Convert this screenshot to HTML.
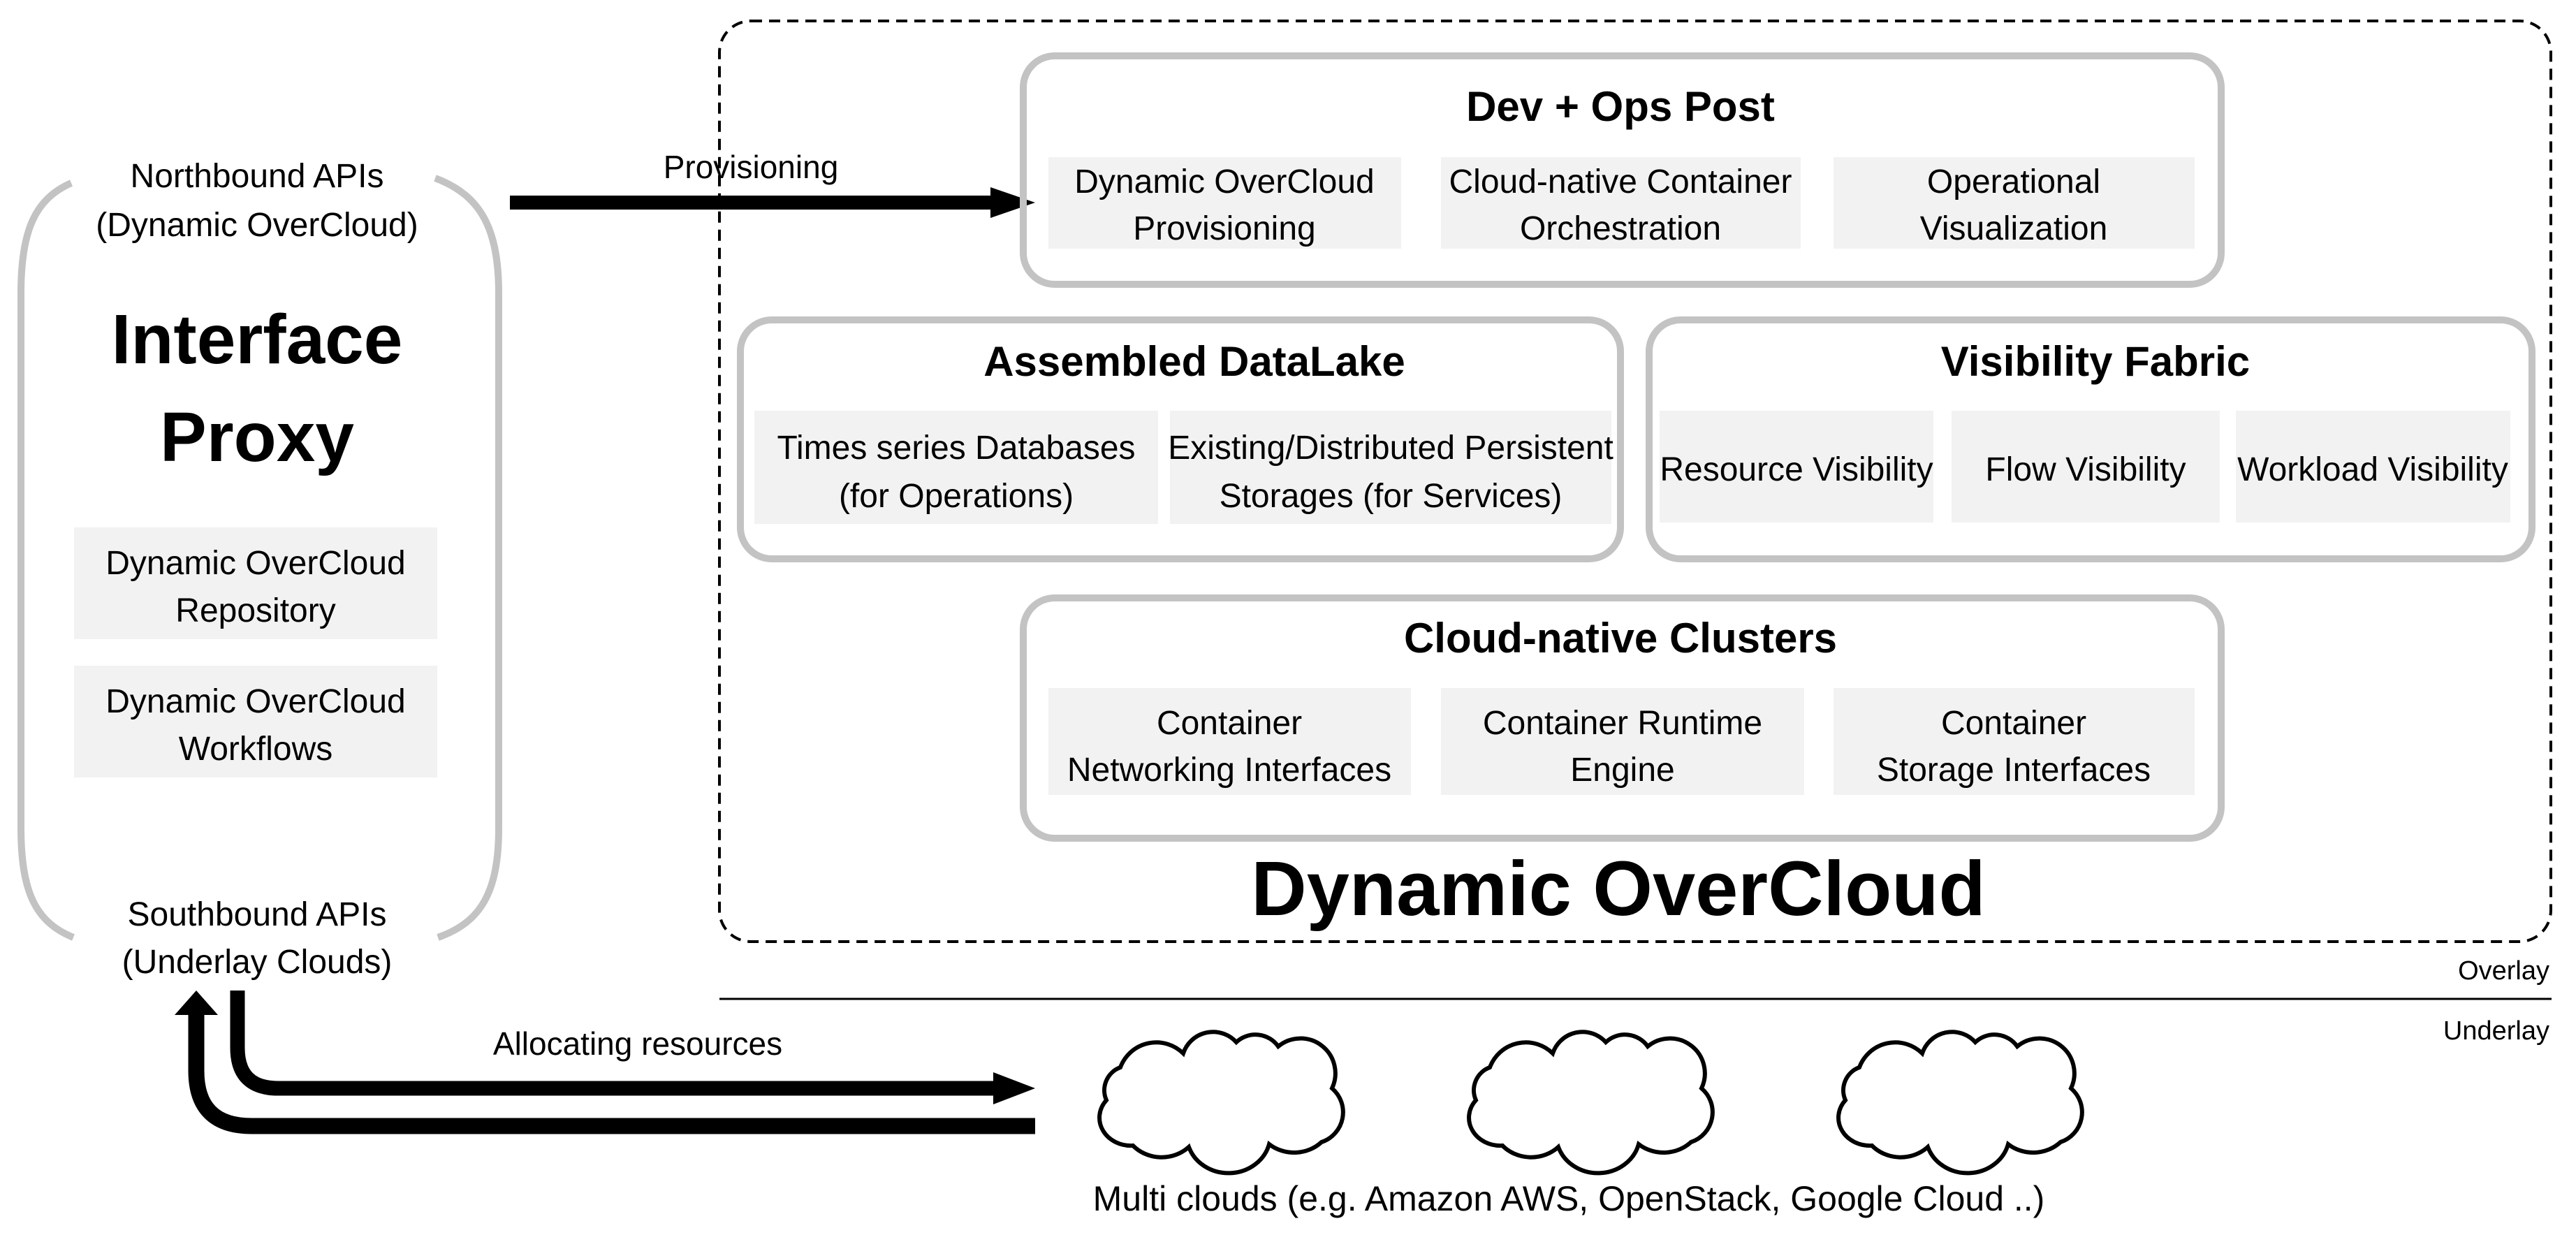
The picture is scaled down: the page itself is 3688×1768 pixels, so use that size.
<!DOCTYPE html>
<html><head><meta charset="utf-8"><style>
html,body{margin:0;padding:0;background:#fff;}
svg{display:block;}
text{font-family:"Liberation Sans",Arial,sans-serif;fill:#000;}
.t{font-size:48px;text-anchor:middle;}
.h{font-size:60px;font-weight:bold;text-anchor:middle;}
.b{fill:#f2f2f2;}
.r{fill:none;stroke:#c3c3c3;stroke-width:10;}
</style></head><body>
<svg width="3688" height="1768" viewBox="0 0 3688 1768" xmlns="http://www.w3.org/2000/svg">
<defs>
<path id="cloud" d="M60,170 A45,40 0 0 1 22,105 A35,35 0 0 1 42,58 A55,55 0 0 1 132,38 A45,45 0 0 1 208,22 A40,40 0 0 1 268,28 A50,50 0 0 1 345,88 A45,45 0 0 1 330,165 A55,50 0 0 1 255,168 A60,55 0 0 1 140,172 A55,50 0 0 1 60,170 Z" fill="#fff" stroke="#000" stroke-width="6"/>
</defs>

<!-- dashed overcloud box -->
<rect x="1030" y="30" width="2622" height="1318" rx="45" fill="none" stroke="#000" stroke-width="4" stroke-dasharray="16,10"/>

<!-- Interface proxy box (broken) -->
<path d="M102,262 C50,285 30,330 30,420 L30,1185 C30,1275 50,1320 105,1342" class="r"/>
<path d="M623,255 C690,280 714,330 714,420 L714,1185 C714,1275 690,1320 627,1342" class="r"/>

<text class="t" x="368" y="268">Northbound APIs</text>
<text class="t" x="368" y="338">(Dynamic OverCloud)</text>
<text x="368" y="520" style="font-size:100px;font-weight:bold;text-anchor:middle">Interface</text>
<text x="368" y="660" style="font-size:100px;font-weight:bold;text-anchor:middle">Proxy</text>
<rect class="b" x="106" y="755" width="520" height="160"/>
<text class="t" x="366" y="822">Dynamic OverCloud</text>
<text class="t" x="366" y="890">Repository</text>
<rect class="b" x="106" y="953" width="520" height="160"/>
<text class="t" x="366" y="1020">Dynamic OverCloud</text>
<text class="t" x="366" y="1088">Workflows</text>
<text class="t" x="368" y="1325">Southbound APIs</text>
<text class="t" x="368" y="1393">(Underlay Clouds)</text>

<!-- Provisioning arrow -->
<rect x="730" y="280" width="690" height="20"/>
<polygon points="1418,268 1482,290 1418,312"/>
<text x="1075" y="255" style="font-size:46px;text-anchor:middle">Provisioning</text>

<!-- Dev + Ops Post -->
<rect class="r" x="1465" y="80" width="1715" height="327" rx="45"/>
<text class="h" x="2320" y="173">Dev + Ops Post</text>
<rect class="b" x="1501" y="225" width="505" height="131"/>
<text class="t" x="1753" y="276">Dynamic OverCloud</text>
<text class="t" x="1753" y="343">Provisioning</text>
<rect class="b" x="2063" y="225" width="515" height="131"/>
<text class="t" x="2320" y="276">Cloud-native Container</text>
<text class="t" x="2320" y="343">Orchestration</text>
<rect class="b" x="2625" y="225" width="517" height="131"/>
<text class="t" x="2883" y="276">Operational</text>
<text class="t" x="2883" y="343">Visualization</text>

<!-- Assembled DataLake -->
<rect class="r" x="1060" y="458" width="1260" height="342" rx="45"/>
<text class="h" x="1710" y="538">Assembled DataLake</text>
<rect class="b" x="1080" y="588" width="578" height="162"/>
<text class="t" x="1369" y="657">Times series Databases</text>
<text class="t" x="1369" y="726">(for Operations)</text>
<rect class="b" x="1675" y="588" width="632" height="162"/>
<text class="t" x="1991" y="657">Existing/Distributed Persistent</text>
<text class="t" x="1991" y="726">Storages (for Services)</text>

<!-- Visibility Fabric -->
<rect class="r" x="2361" y="458" width="1264" height="342" rx="45"/>
<text class="h" x="3000" y="538">Visibility Fabric</text>
<rect class="b" x="2376" y="588" width="392" height="160"/>
<text class="t" x="2572" y="688">Resource Visibility</text>
<rect class="b" x="2794" y="588" width="384" height="160"/>
<text class="t" x="2986" y="688">Flow Visibility</text>
<rect class="b" x="3201" y="588" width="393" height="160"/>
<text class="t" x="3397" y="688">Workload Visibility</text>

<!-- Cloud-native Clusters -->
<rect class="r" x="1465" y="856" width="1715" height="344" rx="45"/>
<text class="h" x="2320" y="934">Cloud-native Clusters</text>
<rect class="b" x="1501" y="985" width="519" height="153"/>
<text class="t" x="1760" y="1051">Container</text>
<text class="t" x="1760" y="1118">Networking Interfaces</text>
<rect class="b" x="2063" y="985" width="520" height="153"/>
<text class="t" x="2323" y="1051">Container Runtime</text>
<text class="t" x="2323" y="1118">Engine</text>
<rect class="b" x="2625" y="985" width="517" height="153"/>
<text class="t" x="2883" y="1051">Container</text>
<text class="t" x="2883" y="1118">Storage Interfaces</text>

<text x="2317" y="1310" style="font-size:110px;font-weight:bold;text-anchor:middle">Dynamic OverCloud</text>

<!-- overlay/underlay -->
<line x1="1030" y1="1430" x2="3653" y2="1430" stroke="#000" stroke-width="3"/>
<text x="3650" y="1402" style="font-size:38px;text-anchor:end">Overlay</text>
<text x="3650" y="1488" style="font-size:38px;text-anchor:end">Underlay</text>

<!-- allocating arrows -->
<path d="M340,1418 L340,1500 Q340,1558 398,1558 L1425,1558" fill="none" stroke="#000" stroke-width="21"/>
<polygon points="1422,1535 1482,1558 1422,1581"/>
<path d="M1482,1612 L360,1612 Q281,1612 281,1533 L281,1450" fill="none" stroke="#000" stroke-width="23"/>
<polygon points="250,1453 281,1418 312,1453"/>
<text x="913" y="1510" style="font-size:46px;text-anchor:middle">Allocating resources</text>

<!-- clouds -->
<use href="#cloud" transform="translate(1562,1470)"/>
<use href="#cloud" transform="translate(2091,1470)"/>
<use href="#cloud" transform="translate(2620,1470)"/>
<text x="2246" y="1733" style="font-size:50px;text-anchor:middle">Multi clouds (e.g. Amazon AWS, OpenStack, Google Cloud ..)</text>
</svg>
</body></html>
